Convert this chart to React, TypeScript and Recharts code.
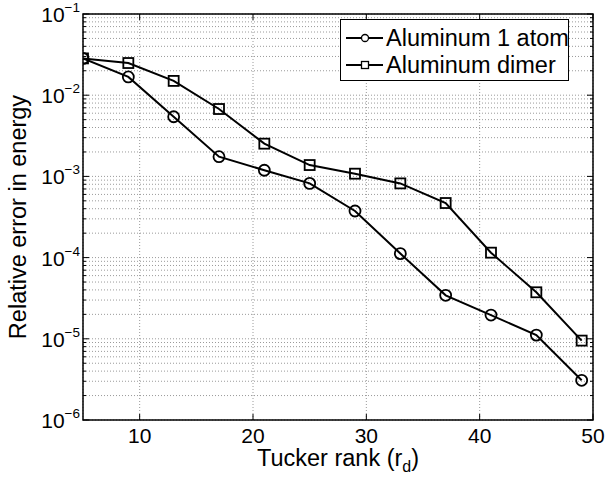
import { CartesianGrid, Legend, Line, LineChart, ReferenceArea, XAxis, YAxis } from 'recharts';

const ranks = [5, 9, 13, 17, 21, 25, 29, 33, 37, 41, 45, 49];
const atomError = [
  0.0284, 0.0168, 0.00543, 0.00175, 0.00119, 0.00082, 0.000375, 0.000112, 3.43e-5, 1.96e-5, 1.11e-5, 3.08e-6,
];
const dimerError = [
  0.0284, 0.0249, 0.015, 0.00676, 0.00253, 0.00138, 0.00108, 0.00082, 0.00047, 0.000115, 3.74e-5, 9.5e-6,
];

const xTicks = [10, 20, 30, 40, 50];
const decades = [-6, -5, -4, -3, -2, -1];
const minorSteps = [1, 2, 3, 4, 5, 6, 7, 8, 9];

const yTicks: number[] = [];
decades.forEach((d) => {
  if (d === -1) {
    yTicks.push(0.1);
    return;
  }
  minorSteps.forEach((m) => yTicks.push(Number((m * Math.pow(10, d)).toPrecision(3))));
});

const data = ranks.map((rank, i) => ({ rank, atom: atomError[i], dimer: dimerError[i] }));

const FONT = '"Liberation Sans", Arial, Helvetica, sans-serif';
const WIDTH = 608;
const HEIGHT = 477;
const MARGIN = { top: 14, right: 15, bottom: 0, left: 0 };
const Y_AXIS_W = 83;
const X_AXIS_H = 57;
const PLOT_LEFT = MARGIN.left + Y_AXIS_W;
const PLOT_RIGHT = WIDTH - MARGIN.right;
const PLOT_TOP = MARGIN.top;
const PLOT_BOTTOM = HEIGHT - X_AXIS_H;

const YTick = ({ y, payload }: any) => {
  const lg = Math.log10(payload.value);
  const exp = Math.round(lg);
  const major = Math.abs(lg - exp) < 1e-6;
  const len = major ? 6 : 3;
  return (
    <g>
      <line x1={PLOT_LEFT} x2={PLOT_LEFT + len} y1={y} y2={y} stroke="#000" />
      <line x1={PLOT_RIGHT - len} x2={PLOT_RIGHT} y1={y} y2={y} stroke="#000" />
      {major && (
        <text x={80} y={y + 8} textAnchor="end" fontFamily={FONT} fontSize={21} fill="#000">
          10
          <tspan dy={-10} fontSize={13.5}>
            {'\u2212' + String(-exp)}
          </tspan>
        </text>
      )}
    </g>
  );
};

const XTick = ({ x, payload }: any) => (
  <g>
    <line x1={x} x2={x} y1={PLOT_BOTTOM} y2={PLOT_BOTTOM - 6} stroke="#000" />
    <line x1={x} x2={x} y1={PLOT_TOP} y2={PLOT_TOP + 6} stroke="#000" />
    <text x={x} y={PLOT_BOTTOM + 23} textAnchor="middle" fontFamily={FONT} fontSize={21} fill="#000">
      {payload.value}
    </text>
  </g>
);

const XLabel = () => (
  <text x={(PLOT_LEFT + PLOT_RIGHT) / 2} y={PLOT_BOTTOM + 46} textAnchor="middle" fontFamily={FONT} fontSize={23.5} fill="#000">
    Tucker rank (r
    <tspan dy={6} fontSize={16}>
      d
    </tspan>
    <tspan dy={-6}>)</tspan>
  </text>
);

const YLabel = () => {
  const cy = (PLOT_TOP + PLOT_BOTTOM) / 2;
  return (
    <text
      x={26}
      y={cy}
      transform={`rotate(-90, 26, ${cy})`}
      textAnchor="middle"
      fontFamily={FONT}
      fontSize={23.5}
      fill="#000"
    >
      Relative error in energy
    </text>
  );
};

const CircleDot = ({ cx, cy, index }: any) => (
  <circle key={`c${index}`} cx={cx} cy={cy} r={5.5} fill="none" stroke="#000" strokeWidth={1.8} />
);

const SquareDot = ({ cx, cy, index }: any) => (
  <rect key={`s${index}`} x={cx - 5} y={cy - 5} width={10} height={10} fill="none" stroke="#000" strokeWidth={1.8} />
);

const legendItems = [
  { label: 'Aluminum 1 atom', marker: 'circle' },
  { label: 'Aluminum dimer', marker: 'square' },
];

const LegendBox = () => (
  <svg width={230} height={63} style={{ display: 'block' }}>
    <rect x={0.5} y={0.5} width={228} height={61} fill="#fff" stroke="none" />
    {legendItems.map((item, i) => {
      const y = 19 + i * 27;
      return (
        <g key={item.label}>
          <line x1={6} x2={43} y1={y} y2={y} stroke="#000" strokeWidth={2} />
          {item.marker === 'circle' ? (
            <circle cx={25} cy={y} r={3.5} fill="#fff" stroke="#000" strokeWidth={1.3} />
          ) : (
            <rect x={21.5} y={y - 3.5} width={7} height={7} fill="#fff" stroke="#000" strokeWidth={1.3} />
          )}
          <text x={46} y={y + 8} fontFamily={FONT} fontSize={23.5} fill="#000">
            {item.label}
          </text>
        </g>
      );
    })}
    <rect x={0.5} y={0.5} width={228} height={61} fill="none" stroke="#000" />
  </svg>
);

export default function App() {
  return (
    <div style={{ position: 'absolute', left: 0, top: 0, background: '#fff' }}>
      <LineChart width={WIDTH} height={HEIGHT} data={data} margin={MARGIN}>
        <CartesianGrid stroke="#9a9a9a" strokeDasharray="1 2" />
        <XAxis
          dataKey="rank"
          type="number"
          domain={[5, 50]}
          ticks={xTicks}
          interval={0}
          allowDataOverflow
          height={X_AXIS_H}
          axisLine={false}
          tickLine={false}
          tick={<XTick />}
          label={<XLabel />}
        />
        <YAxis
          type="number"
          scale="log"
          domain={[1e-6, 1e-1]}
          ticks={yTicks}
          interval={0}
          allowDataOverflow
          width={Y_AXIS_W}
          axisLine={false}
          tickLine={false}
          tick={<YTick />}
          label={<YLabel />}
        />
        <ReferenceArea x1={5} x2={50} y1={1e-6} y2={1e-1} fill="none" stroke="#000" strokeWidth={1.5} />
        <Line dataKey="atom" stroke="#000" strokeWidth={2} dot={CircleDot} isAnimationActive={false} />
        <Line dataKey="dimer" stroke="#000" strokeWidth={2} dot={SquareDot} isAnimationActive={false} />
        <Legend
          layout="horizontal"
          verticalAlign="middle"
          align="center"
          content={<LegendBox />}
          wrapperStyle={{ position: 'absolute', left: 340, top: 19, width: 230, height: 63 }}
        />
      </LineChart>
    </div>
  );
}
